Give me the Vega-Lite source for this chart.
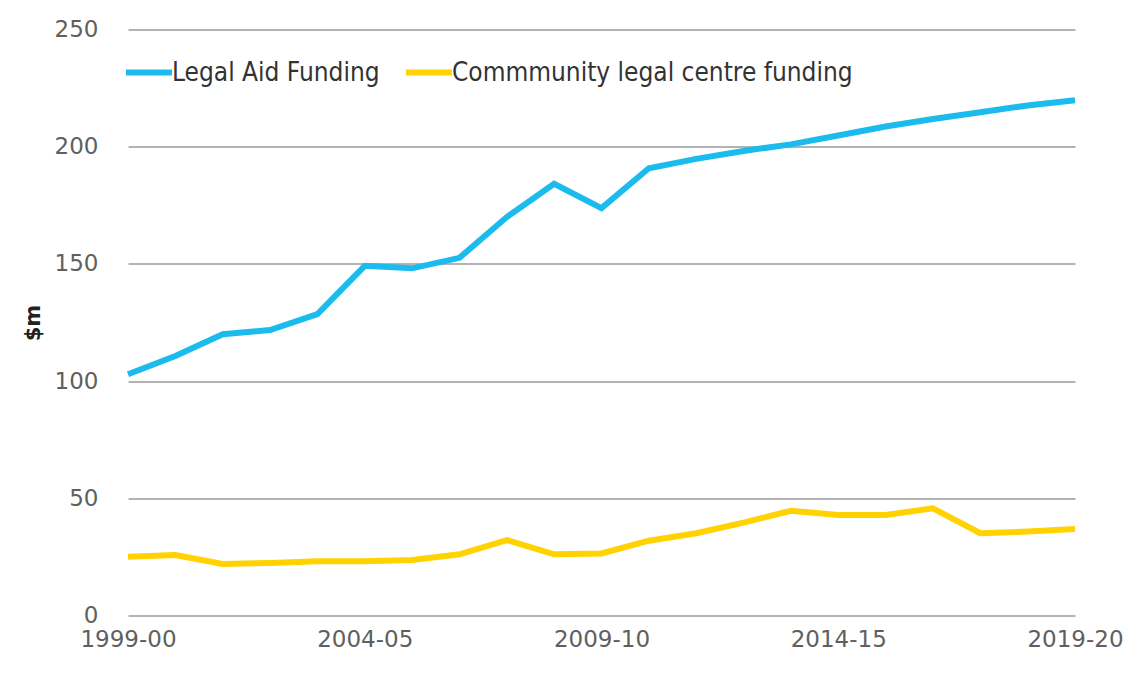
{
  "$schema": "https://vega.github.io/schema/vega-lite/v6.json",
  "width": 947,
  "height": 586,
  "autosize": {"type": "none"},
  "padding": {"left": 128, "top": 29.5, "right": 53, "bottom": 70.5},
  "background": "white",
  "config": {
    "view": {"stroke": null},
    "axis": {"labelFont": "DejaVu Sans", "labelFontSize": 23, "labelColor": "#5f5f5f", "ticks": false, "domain": false}
  },
  "data": {
    "values": [
      {"year": "1999-00", "series": "Legal Aid Funding", "value": 102.9},
      {"year": "2000-01", "series": "Legal Aid Funding", "value": 110.7},
      {"year": "2001-02", "series": "Legal Aid Funding", "value": 120.0},
      {"year": "2002-03", "series": "Legal Aid Funding", "value": 121.8},
      {"year": "2003-04", "series": "Legal Aid Funding", "value": 128.6},
      {"year": "2004-05", "series": "Legal Aid Funding", "value": 149.2},
      {"year": "2005-06", "series": "Legal Aid Funding", "value": 148.1},
      {"year": "2006-07", "series": "Legal Aid Funding", "value": 152.6},
      {"year": "2007-08", "series": "Legal Aid Funding", "value": 170.0},
      {"year": "2008-09", "series": "Legal Aid Funding", "value": 184.2},
      {"year": "2009-10", "series": "Legal Aid Funding", "value": 173.8},
      {"year": "2010-11", "series": "Legal Aid Funding", "value": 190.8},
      {"year": "2011-12", "series": "Legal Aid Funding", "value": 194.8},
      {"year": "2012-13", "series": "Legal Aid Funding", "value": 198.2},
      {"year": "2013-14", "series": "Legal Aid Funding", "value": 201.0},
      {"year": "2014-15", "series": "Legal Aid Funding", "value": 204.8},
      {"year": "2015-16", "series": "Legal Aid Funding", "value": 208.6},
      {"year": "2016-17", "series": "Legal Aid Funding", "value": 211.8},
      {"year": "2017-18", "series": "Legal Aid Funding", "value": 214.7},
      {"year": "2018-19", "series": "Legal Aid Funding", "value": 217.6},
      {"year": "2019-20", "series": "Legal Aid Funding", "value": 219.8},
      {"year": "1999-00", "series": "Commmunity legal centre funding", "value": 25.1},
      {"year": "2000-01", "series": "Commmunity legal centre funding", "value": 25.8},
      {"year": "2001-02", "series": "Commmunity legal centre funding", "value": 22.0},
      {"year": "2002-03", "series": "Commmunity legal centre funding", "value": 22.4},
      {"year": "2003-04", "series": "Commmunity legal centre funding", "value": 23.1},
      {"year": "2004-05", "series": "Commmunity legal centre funding", "value": 23.1},
      {"year": "2005-06", "series": "Commmunity legal centre funding", "value": 23.7},
      {"year": "2006-07", "series": "Commmunity legal centre funding", "value": 26.1},
      {"year": "2007-08", "series": "Commmunity legal centre funding", "value": 32.2},
      {"year": "2008-09", "series": "Commmunity legal centre funding", "value": 26.1},
      {"year": "2009-10", "series": "Commmunity legal centre funding", "value": 26.5},
      {"year": "2010-11", "series": "Commmunity legal centre funding", "value": 31.9},
      {"year": "2011-12", "series": "Commmunity legal centre funding", "value": 35.1},
      {"year": "2012-13", "series": "Commmunity legal centre funding", "value": 39.6},
      {"year": "2013-14", "series": "Commmunity legal centre funding", "value": 44.7},
      {"year": "2014-15", "series": "Commmunity legal centre funding", "value": 42.9},
      {"year": "2015-16", "series": "Commmunity legal centre funding", "value": 42.9},
      {"year": "2016-17", "series": "Commmunity legal centre funding", "value": 45.7},
      {"year": "2017-18", "series": "Commmunity legal centre funding", "value": 35.1},
      {"year": "2018-19", "series": "Commmunity legal centre funding", "value": 35.8},
      {"year": "2019-20", "series": "Commmunity legal centre funding", "value": 36.9}
    ]
  },
  "mark": {"type": "line", "strokeWidth": 6, "strokeJoin": "miter"},
  "encoding": {
    "x": {
      "field": "year",
      "type": "ordinal",
      "sort": null,
      "scale": {"type": "point", "padding": 0},
      "axis": {
        "title": null,
        "labelAngle": 0,
        "values": ["1999-00", "2004-05", "2009-10", "2014-15", "2019-20"],
        "labelPadding": 13,
        "grid": false
      }
    },
    "y": {
      "field": "value",
      "type": "quantitative",
      "scale": {"domain": [0, 250], "nice": false},
      "axis": {
        "title": "$m",
        "titleFont": "DejaVu Sans",
        "titleFontSize": 21,
        "titleFontWeight": "bold",
        "titleColor": "#222222",
        "titleX": -95,
        "titleY": 293,
        "titleAlign": "center",
        "titleBaseline": "middle",
        "values": [0, 50, 100, 150, 200, 250],
        "labelPadding": 30,
        "grid": true,
        "gridColor": "#9a9a9a",
        "gridWidth": 1.5
      }
    },
    "color": {
      "field": "series",
      "type": "nominal",
      "sort": null,
      "scale": {
        "domain": ["Legal Aid Funding", "Commmunity legal centre funding"],
        "range": ["#1cbbee", "#ffd200"]
      },
      "legend": {
        "title": null,
        "orient": "none",
        "legendX": -5,
        "legendY": 17,
        "direction": "horizontal",
        "symbolType": "stroke",
        "symbolSize": 2116,
        "symbolStrokeWidth": 6,
        "labelFont": "DejaVu Sans Condensed",
        "labelFontSize": 26,
        "labelColor": "#333333",
        "labelOffset": -3,
        "columnPadding": 14,
        "labelLimit": 600
      }
    }
  }
}
